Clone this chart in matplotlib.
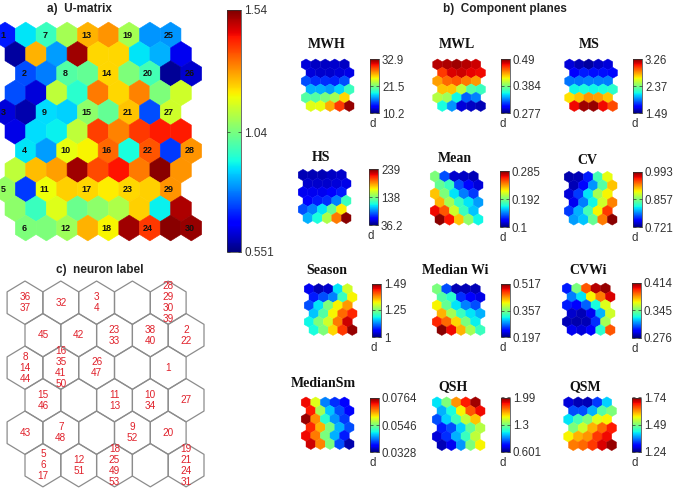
import matplotlib
matplotlib.use('Agg')
import matplotlib.pyplot as plt
from matplotlib.collections import PolyCollection
from matplotlib.colors import Normalize
import numpy as np

W, H = 675, 490
plt.rcParams['font.family'] = ['Liberation Sans', 'DejaVu Sans']

# U-matrix, position on the 0..1 range of the colorbar
umat_lo, umat_mid, umat_hi = 0.551, 1.04, 1.54
umat = [
    [.15, .35, .42, .55, .72, .75, .55, .27, .27],
    [.03, .72, .28, .97, .68, .68, .35, .30, .10],
    [.20, .25, .45, .47, .68, .50, .43, .02, .07],
    [.20, .08, .58, .40, .78, .68, .77, .50, .60],
    [.08, .04, .34, .33, .52, .47, .70, .20, .60],
    [.09, .34, .36, .58, .84, .77, .85, .88, .88],
    [.35, .28, .63, .65, .80, .38, .82, .18, .75],
    [.58, .71, .74, .97, .83, .89, .78, .99, .75],
    [.53, .18, .64, .69, .68, .66, .68, .69, .75],
    [.52, .42, .62, .48, .52, .56, .69, .36, .96],
    [.50, .50, .54, .72, .65, .97, .85, .99, .98],
]
umat_labels = [
    [1, 7, 13, 19, 25],
    [2, 8, 14, 20, 26],
    [3, 9, 15, 21, 27],
    [4, 10, 16, 22, 28],
    [5, 11, 17, 23, 29],
    [6, 12, 18, 24, 30],
]
neuron_labels = [
    [[36, 37], [32], [3, 4], [], [28, 29, 30, 39]],
    [[45], [42], [23, 33], [38, 40], [2, 22]],
    [[8, 14, 44], [16, 35, 41, 50], [26, 47], [], [1]],
    [[15, 46], [], [11, 13], [10, 34], [27]],
    [[43], [7, 48], [], [9, 52], [20]],
    [[5, 6, 17], [12, 51], [18, 25, 49, 53], [], [19, 21, 24, 31]],
]

mwh = [[.08, .06, .06, .07, .06], [.08, .07, .07, .08, .09], [.20, .17, .17, .16, .20],
       [.30, .30, .28, .33, .42], [.45, .45, .50, .55, .68], [.62, .63, .73, .85, .98]]
mwl = [[.95, .96, .97, .95, .93], [.85, .92, .93, .91, .90], [.74, .80, .82, .78, .75],
       [.70, .70, .58, .45, .42], [.57, .54, .37, .22, .25], [.38, .27, .08, .06, .05]]
ms = [[.08, .05, .03, .06, .08], [.11, .15, .14, .14, .13], [.24, .24, .25, .25, .25],
      [.37, .38, .37, .38, .40], [.67, .70, .75, .74, .70], [.90, .97, .98, .90, .83]]
hs = [[.05, .05, .05, .06, .07], [.07, .07, .07, .08, .09], [.10, .10, .10, .12, .15],
      [.12, .15, .17, .25, .42], [.20, .25, .35, .47, .66], [.30, .38, .56, .78, .99]]
mean = [[.50, .20, .07, .06, .05], [.47, .42, .20, .13, .08], [.70, .50, .35, .25, .18],
        [.72, .55, .42, .35, .28], [.90, .82, .60, .42, .32], [.99, .89, .70, .52, .37]]
cv = [[.04, .05, .15, .43, .63], [.05, .13, .27, .45, .70], [.08, .18, .35, .55, .65],
      [.10, .25, .37, .60, .77], [.18, .30, .43, .65, .85], [.28, .32, .47, .78, .99]]
season = [[.10, .05, .07, .35, .60], [.15, .20, .25, .42, .65], [.20, .35, .50, .65, .75],
          [.32, .45, .65, .80, .87], [.37, .50, .60, .78, .93], [.38, .50, .68, .85, .98]]
median_wi = [[.50, .20, .05, .05, .05], [.45, .40, .17, .12, .09], [.65, .47, .35, .25, .20],
             [.72, .55, .42, .35, .30], [.87, .80, .68, .50, .36], [.99, .90, .72, .55, .42]]
cv_wi = [[.15, .50, .82, .95, .98], [.25, .35, .65, .78, .92], [.15, .12, .22, .38, .62],
         [.07, .05, .10, .30, .60], [.05, .04, .05, .17, .55], [.10, .08, .12, .40, .82]]
median_sm = [[.90, .62, .25, .17, .12], [.88, .55, .32, .20, .12], [.98, .76, .40, .27, .18],
             [.87, .72, .50, .30, .20], [.90, .78, .50, .30, .15], [.93, .77, .50, .20, .04]]
qsh = [[.35, .50, .75, .88, .97], [.30, .38, .65, .82, .90], [.20, .33, .42, .58, .70],
       [.15, .20, .33, .47, .57], [.08, .17, .30, .42, .58], [.05, .10, .27, .50, .65]]
qsm = [[.08, .05, .05, .18, .33], [.20, .20, .30, .45, .50], [.35, .43, .50, .62, .65],
       [.50, .60, .72, .80, .88], [.65, .72, .75, .85, .90], [.78, .80, .85, .92, .98]]

# name, levels, low, mid, high, tick strings
planes = [
    ('MWH', mwh, 10.2, 21.5, 32.9, ['10.2', '21.5', '32.9']),
    ('MWL', mwl, 0.277, 0.384, 0.49, ['0.277', '0.384', '0.49']),
    ('MS', ms, 1.49, 2.37, 3.26, ['1.49', '2.37', '3.26']),
    ('HS', hs, 36.2, 138, 239, ['36.2', '138', '239']),
    ('Mean', mean, 0.1, 0.192, 0.285, ['0.1', '0.192', '0.285']),
    ('CV', cv, 0.721, 0.857, 0.993, ['0.721', '0.857', '0.993']),
    ('Season', season, 1, 1.25, 1.49, ['1', '1.25', '1.49']),
    ('Median Wi', median_wi, 0.197, 0.357, 0.517, ['0.197', '0.357', '0.517']),
    ('CVWi', cv_wi, 0.276, 0.345, 0.414, ['0.276', '0.345', '0.414']),
    ('MedianSm', median_sm, 0.0328, 0.0546, 0.0764, ['0.0328', '0.0546', '0.0764']),
    ('QSH', qsh, 0.601, 1.3, 1.99, ['0.601', '1.3', '1.99']),
    ('QSM', qsm, 1.24, 1.49, 1.74, ['1.24', '1.49', '1.74']),
]
# pixel layout per plane: first hex x, first row y, last row y,
# colorbar left, top, bottom, title x, title y
plane_px = [
    (306, 64.5, 106, 370, 59, 113, 327, 45),
    (437.5, 64.5, 106, 501, 59, 113, 457, 45),
    (569.5, 64.5, 106, 633, 59, 113, 589, 45),
    (303, 175, 218, 369, 169.5, 225, 321, 157),
    (435, 176.5, 219.5, 500, 171, 227, 455, 158),
    (569, 177, 219.5, 633, 172, 227, 587, 161),
    (309, 289, 330, 372, 283.5, 337, 327, 271),
    (437, 289, 330, 501, 284, 337, 455, 271),
    (567, 288.5, 330, 632, 282.5, 337.5, 588, 270),
    (306, 402.5, 444, 370, 398, 452, 323, 383),
    (437, 402.5, 445, 501, 397.5, 452, 453, 387),
    (568.5, 402.5, 445, 632, 397.5, 452, 585, 387),
]


def grid_axes(cx, cy, dx, dy, nrows, ncols):
    # axes in grid units, with row 0 col 0 sitting at pixel (cx, cy)
    left = cx - dx
    top = cy - dy
    width = dx * (ncols + 2)
    height = dy * (nrows + 1)
    ax = fig.add_axes([left / W, 1 - (top + height) / H, width / W, height / H])
    ax.set_xlim(-1, ncols + 1)
    ax.set_ylim(nrows, -1)
    ax.axis('off')
    return ax


def hex_verts(x, y):
    return [(x, y - 2 / 3), (x + .5, y - 1 / 3), (x + .5, y + 1 / 3),
            (x, y + 2 / 3), (x - .5, y + 1 / 3), (x - .5, y - 1 / 3)]


def add_colorbar(pc, left, top, bottom, width, ticks, ticklabels, fs):
    cax = fig.add_axes([left / W, 1 - bottom / H, width / W, (bottom - top) / H])
    cb = fig.colorbar(pc, cax=cax)
    cb.set_ticks(ticks)
    cb.set_ticklabels(ticklabels)
    cb.outline.set_linewidth(0.5)
    cb.outline.set_edgecolor('#333333')
    cax.tick_params(direction='in', length=2, width=0.5, left=True, right=True,
                    labelsize=fs, labelcolor='#333333', pad=2.5, color='#333333')
    cb.minorticks_off()
    return cax


fig = plt.figure(figsize=(W / 100, H / 100), dpi=100)

# a) U-matrix, rows zigzag over a period of four
zigzag = [0, .5, 1, .5]
ax = grid_axes(5, 35, 20.7, 19.3, 11, 10)
verts = []
vals = []
for r, row in enumerate(umat):
    for k, v in enumerate(row):
        verts.append(hex_verts(k + zigzag[r % 4], r))
        vals.append(umat_lo + v * (umat_hi - umat_lo))
pc = PolyCollection(verts, array=np.array(vals), cmap='jet',
                    norm=Normalize(umat_lo, umat_hi), edgecolors='face', linewidths=0.4)
ax.add_collection(pc)
for i, row in enumerate(umat_labels):
    for j, lab in enumerate(row):
        r = 2 * i
        k = 2 * j
        ax.text(k + zigzag[r % 4] - 0.08, r, str(lab), ha='center', va='center',
                fontsize=6.5, fontweight='bold', color='#111111')
add_colorbar(pc, 227, 10, 252, 14, [umat_lo, umat_mid, umat_hi],
             ['0.551', '1.04', '1.54'], 8.5)

fig.text(79 / W, 1 - 9 / H, 'a)  U-matrix', ha='center', va='center',
         fontsize=8.5, fontweight='bold', color='#222222')
fig.text(505 / W, 1 - 9 / H, 'b)  Component planes', ha='center', va='center',
         fontsize=8.5, fontweight='bold', color='#222222')
fig.text(100 / W, 1 - 270 / H, 'c)  neuron label', ha='center', va='center',
         fontsize=8.5, fontweight='bold', color='#222222')

# c) neuron label grid
ax = grid_axes(25, 302.7, 35.8, 32.5, 6, 6)
verts = []
for r, row in enumerate(neuron_labels):
    for k, labs in enumerate(row):
        x = k + .5 * (r % 2)
        verts.append(hex_verts(x, r))
        if labs:
            ax.text(x, r, '\n'.join(str(n) for n in labs), ha='center', va='center',
                    fontsize=7.2, color='#e0202a', linespacing=1.12, zorder=3)
ax.add_collection(PolyCollection(verts, facecolors='none', edgecolors='#8c8c8c', linewidths=0.9))

# b) component planes
for (name, levels, lo, mid, hi, ticks), px in zip(planes, plane_px):
    cx, y0, y1, bar_left, bar_top, bar_bottom, tx, ty = px
    ax = grid_axes(cx, y0, 9.6, (y1 - y0) / 5, 6, 6)
    verts = []
    vals = []
    for r, row in enumerate(levels):
        for k, v in enumerate(row):
            verts.append(hex_verts(k + .5 * (r % 2), r))
            vals.append(lo + v * (hi - lo))
    pc = PolyCollection(verts, array=np.array(vals), cmap='jet',
                        norm=Normalize(lo, hi), edgecolors='face', linewidths=0.3)
    ax.add_collection(pc)
    add_colorbar(pc, bar_left, bar_top, bar_bottom, 8.5, [lo, mid, hi], ticks, 8.3)
    fig.text((bar_left - 1) / W, 1 - (bar_bottom + 11) / H, 'd', ha='left', va='center',
             fontsize=8.3, color='#333333')
    fig.text(tx / W, 1 - ty / H, name, ha='center', va='center', fontsize=10,
             fontweight='bold', family=['Liberation Serif', 'DejaVu Serif'], color='#111111')

fig.savefig('out.png', dpi=100)
